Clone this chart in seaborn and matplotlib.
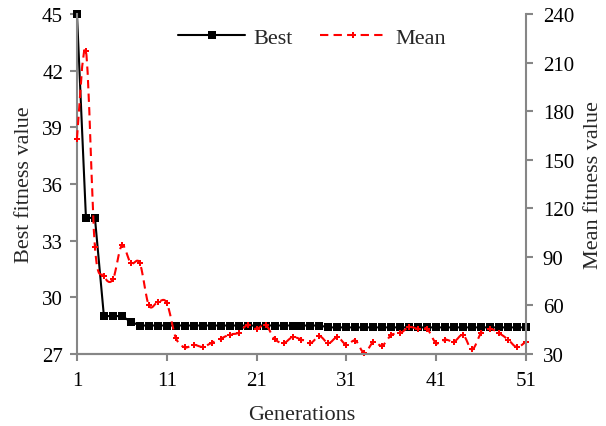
import numpy as np
import pandas as pd
import matplotlib
matplotlib.use('Agg')
import matplotlib.pyplot as plt
from matplotlib.path import Path
from matplotlib.patches import PathPatch
from matplotlib.lines import Line2D
import seaborn as sns

# Datos
generations = list(range(1, 52))
best = [45.0, 34.2, 34.2, 29.0, 29.0, 29.0, 28.7] + [28.5] * 21 + [28.4] * 23
mean = [163, 217, 96, 78, 76, 97, 86, 86, 60, 62,
        61.5, 40, 34, 35.6, 34.3, 36.8, 39.3, 41.9, 43, 47.9,
        45.4, 47.9, 39.3, 36.6, 40.3, 38.8, 36.6, 40.9, 36.6, 40.3,
        35.6, 38.2, 30.5, 37.2, 35.1, 41.7, 42.8, 46.5, 45.4, 45.4,
        36.6, 38.8, 37.6, 41.7, 32.7, 42.8, 45.4, 42.8, 38.8, 34.1,
        37.6]

df = pd.DataFrame({'Generations': generations, 'Best': best, 'Mean': mean})


def smooth_path(x, y):
    # curva suavizada tipo Excel (Catmull-Rom -> Bezier)
    x = np.asarray(x, float)
    y = np.asarray(y, float)
    n = len(x)
    verts = [(x[0], y[0])]
    codes = [Path.MOVETO]
    for i in range(n - 1):
        i0 = max(i - 1, 0)
        i3 = min(i + 2, n - 1)
        c1 = (x[i] + (x[i + 1] - x[i0]) / 6, y[i] + (y[i + 1] - y[i0]) / 6)
        c2 = (x[i + 1] - (x[i3] - x[i]) / 6, y[i + 1] - (y[i3] - y[i]) / 6)
        verts += [c1, c2, (x[i + 1], y[i + 1])]
        codes += [Path.CURVE4] * 3
    return Path(verts, codes)


sns.set_style('white')
plt.rcParams['font.family'] = ['Liberation Serif', 'DejaVu Serif']
plt.rcParams['font.size'] = 15

fig = plt.figure(figsize=(6.06, 4.27), dpi=100)
ax = fig.add_axes([0.127, 0.169, 0.741, 0.796])
ax2 = ax.twinx()

sns.lineplot(data=df, x='Generations', y='Best', ax=ax, color='black', lw=1.5,
             marker='s', markersize=5.5, markeredgewidth=0, legend=False)
sns.lineplot(data=df, x='Generations', y='Mean', ax=ax2, color='red',
             linestyle='none', marker='P', markersize=5, markeredgewidth=0,
             legend=False)
ax2.add_patch(PathPatch(smooth_path(df['Generations'], df['Mean']), facecolor='none',
                        edgecolor='red', lw=1.5, linestyle=(0, (4, 2.5)), clip_on=False))

ax.set_xlim(1, 51)
ax.set_ylim(27, 45)
ax.set_yticks(np.arange(27, 46, 3))
ax.set_xticks(np.arange(1, 52, 10))
ax2.set_ylim(30, 240)
ax2.set_yticks(np.arange(30, 241, 30))
for line in ax.lines + ax2.lines:
    line.set_clip_on(False)

ax.set_xlabel('Generations', fontsize=16, labelpad=11)
ax.set_ylabel('Best fitness value', fontsize=16, labelpad=6)
ax2.set_ylabel('Mean fitness value', fontsize=16, labelpad=7)

grey = '#868686'
for a in (ax, ax2):
    a.spines['top'].set_visible(False)
    for s in ('left', 'right', 'bottom'):
        a.spines[s].set_color(grey)
        a.spines[s].set_linewidth(1.5)
    a.tick_params(axis='both', direction='out', length=5, width=1.5, color=grey,
                  labelsize=15, labelcolor='black', pad=5)
ax.tick_params(axis='y', left=True, right=False)
ax.tick_params(axis='x', bottom=True, pad=7)
ax2.tick_params(axis='y', right=True, left=False, pad=7)
ax2.spines['left'].set_visible(False)
ax.spines['right'].set_visible(False)

handles = [ax.lines[0],
           Line2D([], [], color='red', lw=1.5, linestyle=(0, (4, 2.5)), marker='P',
                  markersize=5, markeredgewidth=0)]
fig.legend(handles, ['Best', 'Mean'], loc='upper center', bbox_to_anchor=(0.515, 0.98),
           ncol=2, frameon=False, handlelength=3, handletextpad=0.4, numpoints=1,
           fontsize=16, columnspacing=1.2)

fig.savefig('out.png', dpi=100)
